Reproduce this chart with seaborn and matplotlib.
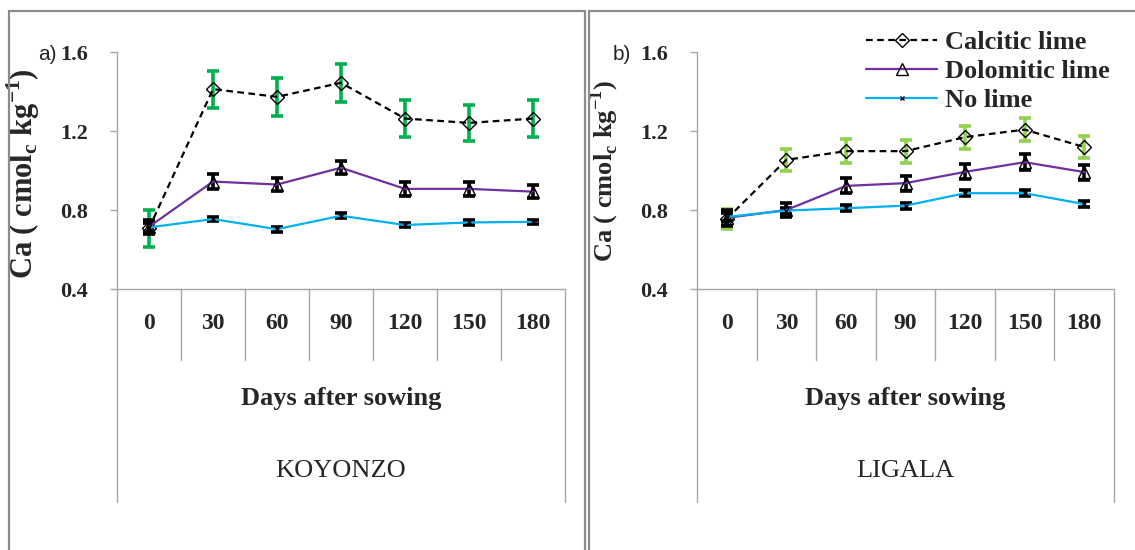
import pandas as pd
import seaborn as sns
import matplotlib.pyplot as plt
from matplotlib.patches import Rectangle

# Days after sowing (categories)
days = ['0', '30', '60', '90', '120', '150', '180']

# KOYONZO
koy_calcitic = [0.707, 1.412, 1.373, 1.444, 1.263, 1.241, 1.263]
koy_calcitic_err = [0.095, 0.094, 0.096, 0.097, 0.093, 0.093, 0.093]
koy_dolomitic = [0.715, 0.944, 0.929, 1.014, 0.907, 0.907, 0.893]
koy_dolomitic_err = [0.035, 0.036, 0.034, 0.033, 0.034, 0.034, 0.034]
koy_nolime = [0.712, 0.754, 0.703, 0.771, 0.724, 0.737, 0.740]
koy_nolime_err = [0.020, 0.012, 0.012, 0.013, 0.012, 0.012, 0.010]

# LIGALA
lig_calcitic = [0.755, 1.054, 1.098, 1.098, 1.169, 1.207, 1.119]
lig_calcitic_err = [0.050, 0.057, 0.060, 0.058, 0.058, 0.060, 0.055]
lig_dolomitic = [0.760, 0.800, 0.922, 0.936, 0.993, 1.042, 0.992]
lig_dolomitic_err = [0.040, 0.035, 0.038, 0.038, 0.038, 0.040, 0.038]
lig_nolime = [0.765, 0.797, 0.809, 0.822, 0.885, 0.885, 0.830]
lig_nolime_err = [0.020, 0.015, 0.015, 0.015, 0.015, 0.015, 0.015]

treatments = ['Calcitic lime', 'Dolomitic lime', 'No lime']


def long_table(vals, errs):
    rows = []
    for t, v, e in zip(treatments, vals, errs):
        for i, d in enumerate(days):
            rows.append({'treatment': t, 'pos': i, 'day': d, 'ca': v[i], 'err': e[i]})
    return pd.DataFrame(rows)


df_koy = long_table([koy_calcitic, koy_dolomitic, koy_nolime],
                    [koy_calcitic_err, koy_dolomitic_err, koy_nolime_err])
df_lig = long_table([lig_calcitic, lig_dolomitic, lig_nolime],
                    [lig_calcitic_err, lig_dolomitic_err, lig_nolime_err])

sns.set_style('white')
plt.rcParams['font.family'] = ['Liberation Serif', 'DejaVu Serif']
plt.rcParams['mathtext.fontset'] = 'custom'
plt.rcParams['mathtext.bf'] = 'Liberation Serif:bold'
plt.rcParams['mathtext.rm'] = 'Liberation Serif:bold'

line_style = {
    'Calcitic lime': dict(color='black', marker='D', ms=7, ls=(0, (3, 2))),
    'Dolomitic lime': dict(color='#7030A0', marker='^', ms=9, ls='-'),
    'No lime': dict(color='#00B0F0', marker='x', ms=3.5, ls='-'),
}
grid_color = '#a6a6a6'

W, H = 1135, 550
fig = plt.figure(figsize=(W / 100, H / 100), dpi=100)

# panel frames
for x0, x1 in [(9, 585), (589, 1145)]:
    fig.patches.append(Rectangle((x0 / W, -0.05), (x1 - x0) / W, 1 - 11 / H + 0.05,
                                 transform=fig.transFigure, fill=False,
                                 edgecolor='#8c8c8c', lw=1.6))

panels = [
    dict(df=df_koy, site='KOYONZO', tag='a)', green='#00B050', ylab_size=22,
         tag_xy=(47, 55), ylab_x=42, ylab_y=174),
    dict(df=df_lig, site='LIGALA', tag='b)', green='#92D050', ylab_size=19,
         tag_xy=(622, 54), ylab_x=621, ylab_y=171),
]
axes_px = [(117, 565), (697, 1114)]
top_px, bot_px = 52, 289

for k, (p, (xl, xr)) in enumerate(zip(panels, axes_px)):
    ax = fig.add_axes([xl / W, 1 - bot_px / H, (xr - xl) / W, (bot_px - top_px) / H])
    df = p['df']
    for t in treatments:
        sub = df[df['treatment'] == t]
        st = line_style[t]
        ecol = p['green'] if t == 'Calcitic lime' else 'black'
        ax.errorbar(sub['pos'], sub['ca'], yerr=sub['err'], fmt='none', ecolor=ecol,
                    elinewidth=2.6, capsize=4, capthick=2.6, zorder=1.5)
        sns.lineplot(data=sub, x='pos', y='ca', ax=ax, color=st['color'],
                     marker=st['marker'], markersize=st['ms'], linestyle=st['ls'],
                     lw=1.6, mfc='none', mec='black', mew=1.0, label=t,
                     legend=(k == 1))

    ax.set_xlim(-0.5, 6.5)
    ax.set_ylim(0.4, 1.6)
    ax.set_yticks([0.4, 0.8, 1.2, 1.6])
    ax.set_yticklabels(['0.4', '0.8', '1.2', '1.6'], fontweight='bold', fontsize=16)
    ax.set_xticks(range(len(days)))
    ax.set_xticklabels(days, fontweight='bold', fontsize=17)
    ax.tick_params(axis='x', length=0, pad=17)
    ax.tick_params(axis='y', length=5, width=1, color=grid_color, pad=16, left=True,
                   direction='out')
    for s in ['top', 'right']:
        ax.spines[s].set_visible(False)
    for s in ['left', 'bottom']:
        ax.spines[s].set_color(grid_color)
        ax.spines[s].set_linewidth(1.0)

    hpx = bot_px - top_px
    # category dividers below the axis
    for i in range(1, len(days)):
        ax.plot([i / 7, i / 7], [0, (bot_px - 360) / hpx], transform=ax.transAxes,
                color=grid_color, lw=1.0, clip_on=False)
    for xx in [0, 1]:
        ax.plot([xx, xx], [0, (bot_px - 502) / hpx], transform=ax.transAxes,
                color=grid_color, lw=1.0, clip_on=False)

    ax.set_xlabel('Days after sowing', fontsize=19, fontweight='bold')
    ax.xaxis.set_label_coords(0.5, (bot_px - 387) / hpx)
    ax.text(0.5, (bot_px - 471) / hpx, p['site'], transform=ax.transAxes,
            ha='center', va='center', fontsize=19)

    ax.set_ylabel('Ca ( cmol$_\\mathbf{c}$ kg$^\\mathbf{-1}$)', fontsize=p['ylab_size'],
                  fontweight='bold')
    ax.yaxis.set_label_coords((p['ylab_x'] - xl) / (xr - xl), (bot_px - p['ylab_y']) / hpx)

    fig.text(p['tag_xy'][0] / W, 1 - p['tag_xy'][1] / H, p['tag'], ha='center',
             va='center', fontsize=15, family=['Liberation Sans', 'DejaVu Sans'])

    if k == 1:
        ax.legend(loc='upper left', bbox_to_anchor=(866 / W, 1 - 31 / H),
                  bbox_transform=fig.transFigure, frameon=False,
                  prop={'weight': 'bold', 'size': 19}, handlelength=2.7,
                  handletextpad=0.3, labelspacing=0.2, borderpad=0, borderaxespad=0)

fig.savefig('out.png', dpi=100)
